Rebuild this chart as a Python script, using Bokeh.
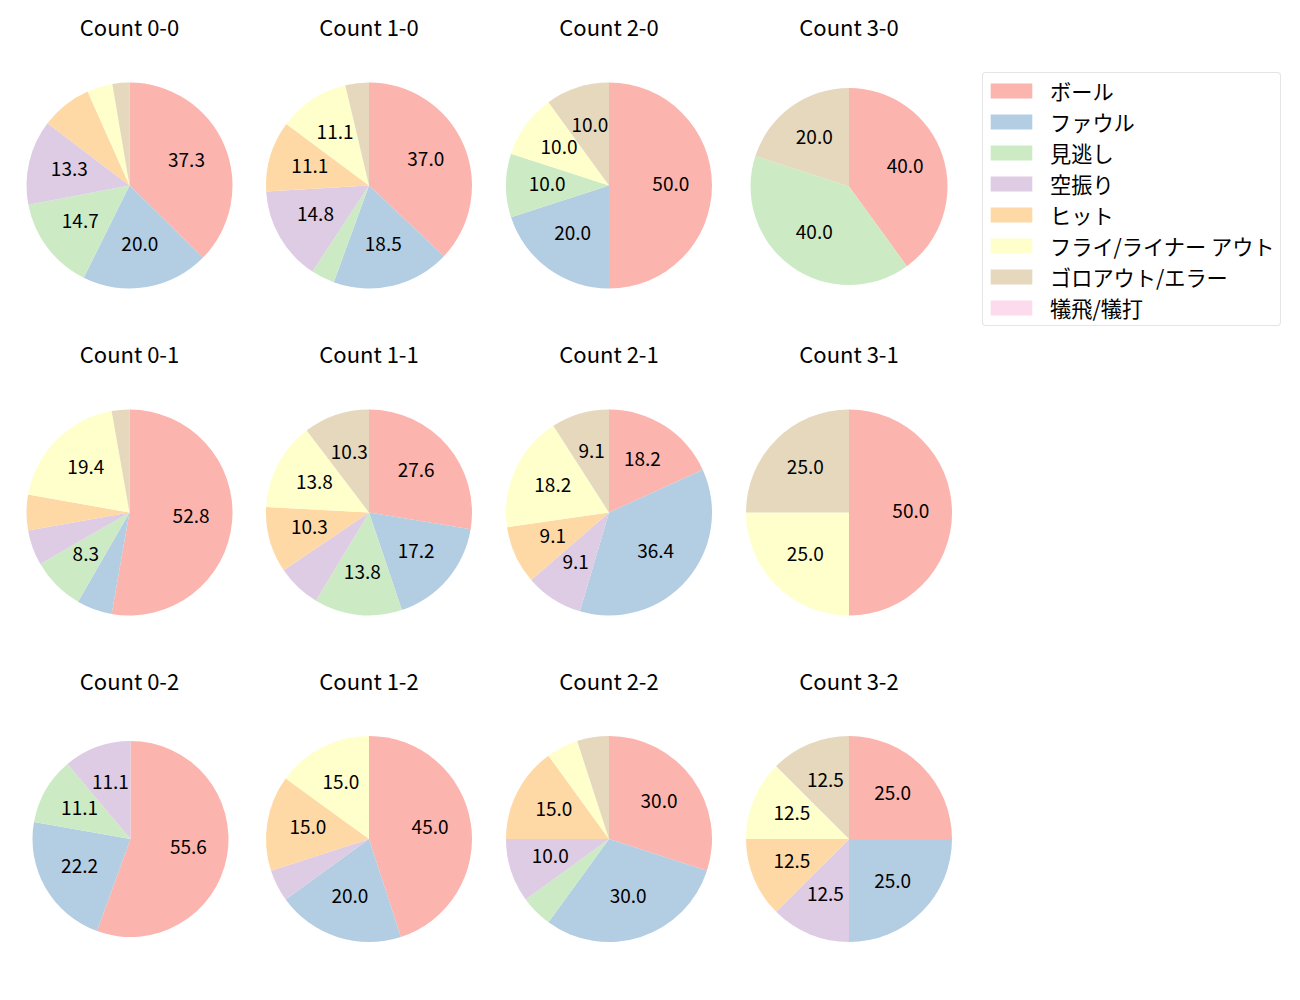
import math
from bokeh.plotting import figure
from bokeh.models import ColumnDataSource, Range1d, Legend, LegendItem
from bokeh.embed import file_html
from bokeh.resources import INLINE
from bokeh.core.properties import value

# ---------------- data ----------------
categories = ["ボール", "ファウル", "見逃し", "空振り", "ヒット",
              "フライ/ライナー アウト", "ゴロアウト/エラー", "犠飛/犠打"]
colors = ["#fbb4ae", "#b3cde3", "#ccebc5", "#decbe4", "#fed9a6",
          "#ffffcc", "#e5d8bd", "#fddaec"]

counts = ["0-0", "1-0", "2-0", "3-0",
          "0-1", "1-1", "2-1", "3-1",
          "0-2", "1-2", "2-2", "3-2"]
ball      = [28, 10, 5, 2, 19, 8, 2, 2, 5, 9, 6, 2]
foul      = [15,  5, 2, 0,  2, 5, 4, 0, 2, 4, 6, 2]
looking   = [11,  1, 1, 2,  3, 4, 0, 0, 1, 0, 1, 0]
swinging  = [10,  4, 0, 0,  2, 2, 1, 0, 1, 1, 2, 1]
hit       = [ 6,  3, 0, 0,  2, 3, 1, 0, 0, 3, 3, 1]
fly_out   = [ 3,  3, 1, 0,  7, 4, 2, 1, 0, 3, 1, 1]
ground    = [ 2,  1, 1, 1,  1, 3, 1, 1, 0, 0, 1, 1]
sacrifice = [ 0,  0, 0, 0,  0, 0, 0, 0, 0, 0, 0, 0]

series = [ball, foul, looking, swinging, hit, fly_out, ground, sacrifice]

# ---------------- layout (page pixels) ----------------
W, H = 1284, 984
col_x = [129, 368.5, 608.5, 848.5]
row_y = [185, 512, 838.5]
title_y = [25, 352, 679]
radius = 103
small_radius = {"3-0": 98.5, "0-2": 98}
center_shift = {"3-0": (0, 1), "0-2": (1, 0)}
label_font = "Noto Sans CJK JP"


def py(y):  # page y -> data y
    return 1000 - y


p = figure(width=W, height=H, output_backend="svg", toolbar_location=None,
           x_range=Range1d(0, W), y_range=Range1d(1000 - H, 1000),
           x_axis_type=None, y_axis_type=None, min_border=0,
           outline_line_color=None)
p.grid.visible = False

wedge_data = {i: dict(x=[], y=[], r=[], a0=[], a1=[]) for i in range(len(categories))}
lab = dict(x=[], y=[], t=[])
ttl = dict(x=[], y=[], t=[])

for k, cnt in enumerate(counts):
    row, col = divmod(k, 4)
    dx, dy = center_shift.get(cnt, (0, 0))
    cx = col_x[col] + dx
    cy = py(row_y[row] + dy)
    r = small_radius.get(cnt, radius)
    vals = [s[k] for s in series]
    total = sum(vals)
    cum = 0.0
    for i, v in enumerate(vals):
        if v <= 0:
            continue
        c0 = cum / total
        cum += v
        c1 = cum / total
        a_start = math.radians(90 - 360 * c1)
        a_end = math.radians(90 - 360 * c0)
        d = wedge_data[i]
        d["x"].append(cx); d["y"].append(cy); d["r"].append(r)
        d["a0"].append(a_start); d["a1"].append(a_end)
        pct = 100.0 * v / total
        if pct > 8.05:
            mid = (a_start + a_end) / 2
            lab["x"].append(cx + 0.6 * r * math.cos(mid))
            lab["y"].append(cy + 0.6 * r * math.sin(mid))
            lab["t"].append(f"{pct:.1f}")
    ttl["x"].append(col_x[col])
    ttl["y"].append(py(title_y[row]))
    ttl["t"].append(f"Count {cnt}")

# categories without any slice still need one (zero-size) entry so the legend shows their swatch
for i in range(len(categories)):
    d = wedge_data[i]
    if not d["x"]:
        d["x"].append(col_x[0]); d["y"].append(py(row_y[0])); d["r"].append(0)
        d["a0"].append(0.0); d["a1"].append(0.0)

renderers = []
for i, cat in enumerate(categories):
    src = ColumnDataSource(wedge_data[i])
    rr = p.wedge(x="x", y="y", radius="r", start_angle="a0", end_angle="a1",
                 source=src, fill_color=colors[i], line_color=None)
    renderers.append(rr)

p.text(x="x", y="y", text="t", source=ColumnDataSource(lab),
       text_align="center", text_baseline="middle", text_color="#000000",
       text_font=value(label_font), text_font_size="19px", y_offset=-2)
p.text(x="x", y="y", text="t", source=ColumnDataSource(ttl),
       text_align="center", text_baseline="middle", text_color="#000000",
       text_font=value(label_font), text_font_size="22px")

legend = Legend(items=[LegendItem(label=c, renderers=[renderers[i]]) for i, c in enumerate(categories)],
                location=(982, H - 326), orientation="vertical",
                glyph_width=52, glyph_height=19, label_standoff=13,
                padding=2, spacing=0, margin=0,
                label_height=28, label_width=228,
                label_text_font=label_font, label_text_font_size="21.2px",
                label_text_color="#000000",
                border_line_color="#cccccc", border_line_width=1,
                background_fill_color="#ffffff", background_fill_alpha=1.0)
if "border_radius" in Legend.properties():
    legend.border_radius = 4
p.add_layout(legend)

open("out.html", "w").write(file_html(p, INLINE))
